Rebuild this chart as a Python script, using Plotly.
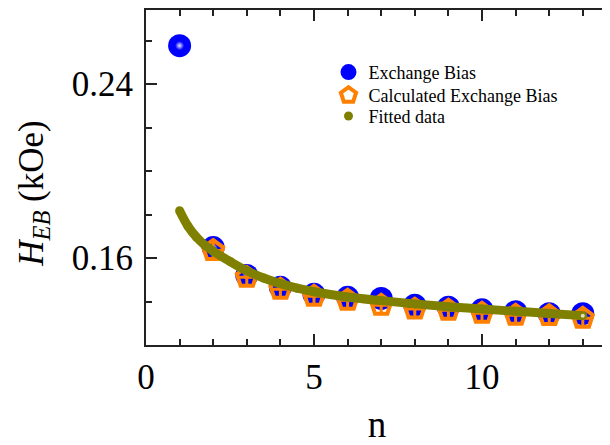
import plotly.graph_objects as go

# ---- data ----
n_meas = [1, 2, 3, 4, 5, 6, 7, 8, 9, 10, 11, 12, 13]
heb_meas = [0.2577, 0.1649, 0.1521, 0.1466, 0.1434, 0.1420, 0.1415,
            0.1384, 0.1375, 0.1363, 0.1354, 0.1345, 0.1345]

n_calc = [2, 3, 4, 5, 6, 7, 8, 9, 10, 11, 12, 13]
heb_calc = [0.1635, 0.1512, 0.1457, 0.1425, 0.1407, 0.1384, 0.1366,
            0.1361, 0.1347, 0.1338, 0.1336, 0.1324]

n_fit = [1, 1.25, 1.5, 1.75, 2, 2.5, 3, 3.5, 4, 4.5, 5, 6, 7, 8, 9, 10, 11, 12, 13]
heb_fit = [0.1818, 0.1747, 0.1697, 0.1660, 0.1632, 0.1585, 0.1542, 0.1509,
           0.1483, 0.1462, 0.1446, 0.1422, 0.1405, 0.1390, 0.1377, 0.1366,
           0.1356, 0.1346, 0.1336]

x_ticks = [0, 5, 10]
y_ticks = [0.16, 0.24]

BLUE = "#0000FF"
ORANGE = "#FF8000"
OLIVE = "#808000"
FONT = "Liberation Serif"

fig = go.Figure()

# measured exchange bias: blue spheres
fig.add_trace(go.Scatter(
    x=n_meas, y=heb_meas, mode="markers", name="Exchange Bias", legend="legend",
    marker=dict(symbol="circle", size=23, color=BLUE, line=dict(width=0)),
))
fig.add_trace(go.Scatter(
    x=n_meas, y=heb_meas, mode="markers", showlegend=False, hoverinfo="skip",
    marker=dict(symbol="circle", size=9, color=BLUE, line=dict(width=0),
                gradient=dict(type="radial", color="#e8e8ff")),
))

# calculated exchange bias: open orange pentagon with cross
fig.add_trace(go.Scatter(
    x=n_calc, y=heb_calc, mode="markers", name="Calculated Exchange Bias", legend="legend2",
    marker=dict(symbol="pentagon-open", size=21, color=ORANGE,
                line=dict(width=4, color=ORANGE)),
))
fig.add_trace(go.Scatter(
    x=n_calc, y=heb_calc, mode="markers", showlegend=False, hoverinfo="skip",
    marker=dict(symbol="cross-thin-open", size=12.5, color=ORANGE,
                line=dict(width=3, color=ORANGE)),
))

# fitted data: thick olive curve of dots
fig.add_trace(go.Scatter(
    x=n_fit, y=heb_fit, mode="lines", showlegend=False, hoverinfo="skip",
    line=dict(color=OLIVE, width=9, shape="spline"),
))
fig.add_trace(go.Scatter(
    x=n_fit, y=heb_fit, mode="markers", name="Fitted data", legend="legend3",
    marker=dict(symbol="circle", size=9, color=OLIVE, line=dict(width=0)),
))
fig.add_trace(go.Scatter(
    x=n_fit[-1:], y=heb_fit[-1:], mode="markers", showlegend=False, hoverinfo="skip",
    marker=dict(symbol="circle", size=4, color="#e0e0c0", line=dict(width=0)),
))

# overlay y axis for right-side major ticks
fig.add_trace(go.Scatter(x=[None], y=[None], yaxis="y2", showlegend=False, hoverinfo="skip"))

legend_common = dict(xanchor="left", yanchor="top", bgcolor="rgba(0,0,0,0)",
                     font=dict(family=FONT, size=18, color="black"))

fig.update_layout(
    width=602, height=437,
    margin=dict(l=138, r=1, t=0, b=100),
    paper_bgcolor="white", plot_bgcolor="white",
    font=dict(family=FONT, color="black"),
    showlegend=True,
    legend=dict(x=0.395, y=0.869, **legend_common),
    legend2=dict(x=0.395, y=0.800, **legend_common),
    legend3=dict(x=0.395, y=0.738, **legend_common),
    xaxis=dict(
        range=[0, 13.75], tickmode="array", tickvals=x_ticks,
        ticks="inside", ticklen=11, tickwidth=1.5, tickcolor="#222",
        minor=dict(dtick=1, tick0=0, ticks="inside", ticklen=6, tickwidth=1.5, tickcolor="#222"),
        showline=True, linecolor="#222", linewidth=2, mirror="ticks",
        showgrid=False, zeroline=False,
        tickfont=dict(family=FONT, size=35, color="black"),
        title=dict(text="n", font=dict(family=FONT, size=37, color="black"), standoff=16),
    ),
    yaxis=dict(
        range=[0.1201, 0.2741], tickmode="array", tickvals=y_ticks,
        ticktext=["0.16", "0.24"],
        ticks="inside", ticklen=11, tickwidth=1.5, tickcolor="#222",
        minor=dict(dtick=0.02, tick0=0.16, ticks="inside", ticklen=6, tickwidth=1.5, tickcolor="#222"),
        showline=True, linecolor="#222", linewidth=2, mirror=True,
        showgrid=False, zeroline=False, ticklabelstandoff=4,
        tickfont=dict(family=FONT, size=35, color="black"),
    ),
    yaxis2=dict(
        range=[0.1201, 0.2741], overlaying="y", side="right",
        tickmode="array", tickvals=y_ticks, showticklabels=False,
        ticks="inside", ticklen=6, tickwidth=1.5, tickcolor="#222",
        showline=False, showgrid=False, zeroline=False,
    ),
    annotations=[dict(
        text="<i>H</i><sub><i>EB</i></sub> (kOe)", textangle=-90,
        xref="paper", yref="paper", x=-0.244, y=0.452,
        xanchor="center", yanchor="middle", showarrow=False,
        font=dict(family=FONT, size=35, color="black"),
    )],
)

fig.write_html("out.html")
